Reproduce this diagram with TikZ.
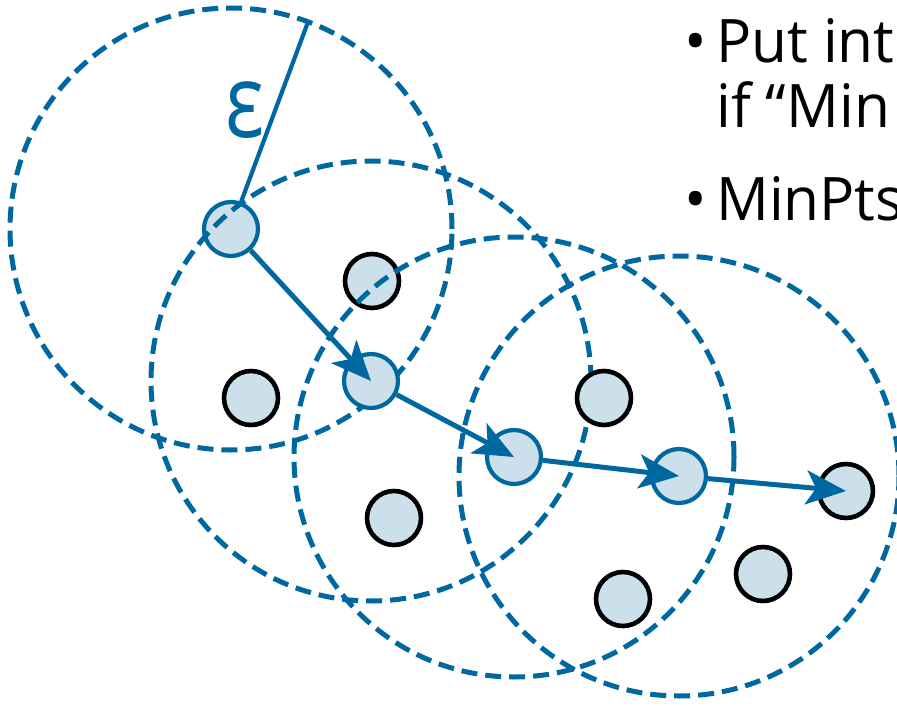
\documentclass[tikz,border=0pt]{standalone}
\usepackage{fontspec}
\setmainfont{Open Sans}
\usetikzlibrary{arrows.meta}
\definecolor{dblue}{RGB}{0,104,160}
\definecolor{lfill}{RGB}{204,224,236}
\begin{document}
\begin{tikzpicture}[x=1pt,y=-1pt,
  core/.style={circle,draw=dblue,fill=lfill,line width=4.2pt,minimum size=54pt,inner sep=0pt},
  plain/.style={circle,draw=black,fill=lfill,line width=4.6pt,minimum size=54pt,inner sep=0pt},
  epsring/.style={draw=dblue,line width=5pt,dash pattern=on 16pt off 8pt},
  link/.style={draw=dblue,line width=5pt,-{Stealth[length=40pt,width=34pt,inset=10pt]}},
  radline/.style={draw=dblue,line width=4.2pt},
  txt/.style={anchor=base west,font=\fontsize{60}{60}\selectfont,inner sep=0pt}]
\useasboundingbox (0,0) rectangle (897,706);
\clip (0,0) rectangle (897,706);
% points drawn below the rings
\node[core] (A) at (231,229) {};
\node[plain] (B) at (372,281) {};
% rings
\draw[epsring] (A.center) circle[radius=221pt];
\draw[epsring] (371,381) circle[radius=220pt];
\draw[epsring] (514,457) circle[radius=220pt];
\draw[epsring] (679,476) circle[radius=220pt];
% points drawn above the rings
\node[plain] (C) at (251,398) {};
\node[core] (D) at (371,381) {};
\node[plain] (E) at (604,398) {};
\node[core] (F) at (514,457) {};
\node[core] (G) at (679,476) {};
\node[plain] (H) at (846,491) {};
\node[plain] (I) at (394,518) {};
\node[plain] (J) at (763,574) {};
\node[plain] (K) at (623,599) {};
% radius
\coordinate (epsend) at (308,22);
\draw[radline] (A) -- (epsend);
\node[text=dblue,font=\fontsize{82}{82}\selectfont,inner sep=0pt] (epsl) at (244.5,110.5) {\scalebox{1}[1.25]{ε}};
% chain
\draw[link] (A) -- (D.center);
\draw[link] (D) -- (F.center);
\draw[link] (F) -- (G.center);
\draw[link] (G) -- (H.center);
% text
\node[txt] (b1) at (684,63) {•};
\node[txt] (t1) at (716,63) {\scalebox{0.975}[1]{Put int}};
\node[txt] (t2) at (716,128) {\scalebox{0.975}[1]{if “Min}};
\node[txt] (b2) at (684,220) {•};
\node[txt] (t3) at (716,220) {\scalebox{0.975}[1]{MinPts}};
\end{tikzpicture}
\end{document}
